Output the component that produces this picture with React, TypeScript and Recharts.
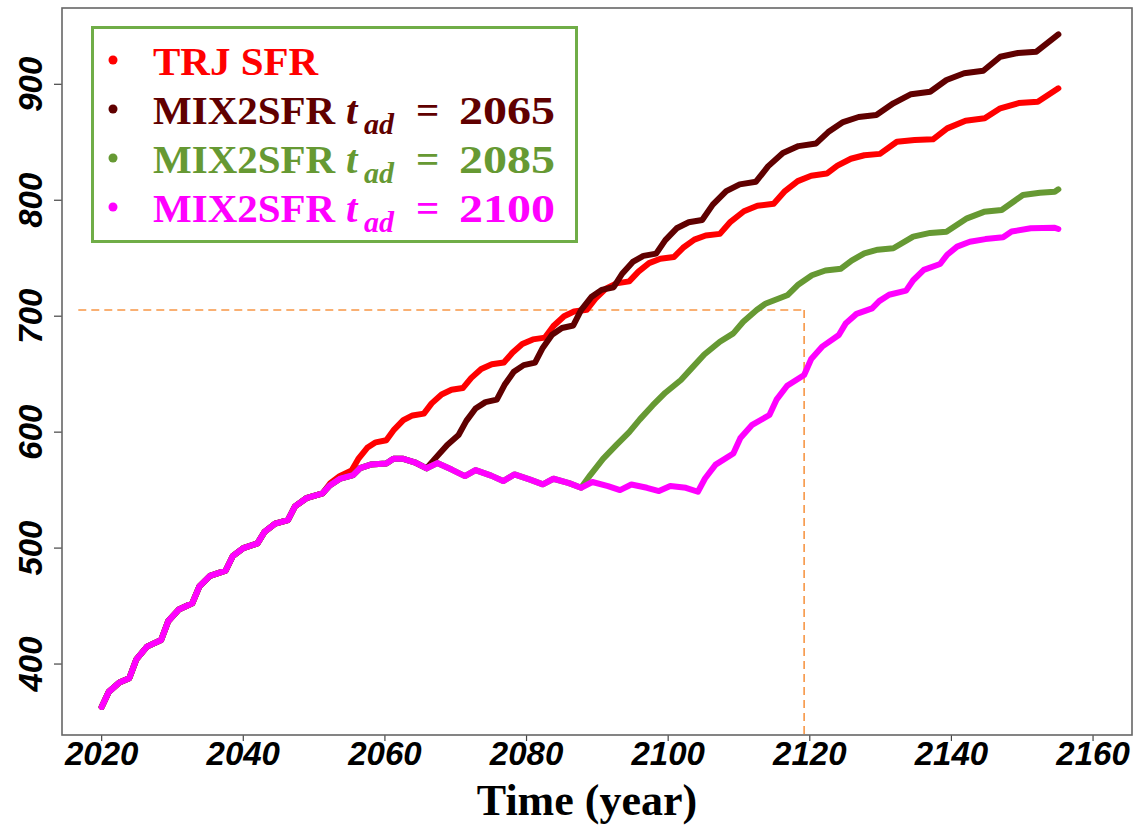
import React from 'react';
import { LineChart, Line, XAxis, YAxis, ReferenceLine } from 'recharts';

type P = [number, number];

const xTicks = [2020, 2040, 2060, 2080, 2100, 2120, 2140, 2160];
const yTicks = [400, 500, 600, 700, 800, 900];
const xDomain: [number, number] = [2014.4, 2165.5];
const yDomain: [number, number] = [338.8, 965.8];

// shared trajectory before divergence
const commonPath: P[] = [
  [2020.0, 363], [2021.0, 376], [2022.5, 384], [2023.9, 387.7], [2024.9, 404], [2026.4, 415],
  [2028.4, 420.7], [2029.4, 437], [2030.9, 447], [2032.8, 452.4], [2033.8, 467], [2035.3, 476],
  [2037.5, 480.5], [2038.5, 493], [2040.0, 500], [2042.0, 504.1], [2043.0, 514], [2044.5, 521],
  [2046.3, 524.2], [2047.3, 536], [2048.9, 543], [2051.2, 547.2],
];

// MIX2SFR plateau (no addition yet)
const mixFlatPath: P[] = [
  [2052.2, 554], [2053.7, 560], [2055.5, 563], [2056.5, 569], [2058.0, 572], [2060.2, 573],
  [2061.2, 577], [2062.6, 577], [2064.2, 574], [2065.9, 568.8], [2067.4, 573.3], [2069.5, 567.5],
  [2071.3, 562.1], [2072.8, 567.3], [2075.0, 562.5], [2076.7, 557.8], [2078.3, 563.5], [2080.5, 559],
  [2082.3, 555], [2083.8, 559.8], [2086.0, 556], [2087.7, 552], [2089.3, 557], [2091.5, 553.5],
  [2093.2, 550], [2094.8, 554.8], [2097.0, 552], [2098.7, 549.2], [2100.3, 553.6], [2102.5, 552],
  [2104.2, 548.6],
];

const trjTail: P[] = [
  [2052.3, 556], [2053.6, 562], [2055.3, 567],
  [2056.3, 577.4], [2057.5, 586.5], [2058.7, 591.2], [2060.2, 593],
  [2061.3, 602.2], [2062.6, 610.3], [2063.9, 614.4], [2065.5, 616],
  [2066.6, 624.8], [2068.0, 632.5], [2069.4, 636.5], [2071.0, 638],
  [2072.2, 646.8], [2073.6, 654.5], [2075.1, 658.5], [2076.8, 660],
  [2078.0, 668.5], [2079.4, 676], [2080.9, 680], [2082.6, 681.5],
  [2083.8, 691.5], [2085.3, 700], [2086.7, 704], [2088.5, 705.5],
  [2089.7, 715], [2091.2, 723.8], [2092.7, 728.3], [2094.5, 730],
  [2095.8, 738.4], [2097.3, 745.8], [2098.9, 749.5], [2100.8, 751],
  [2102.1, 759], [2103.7, 766], [2105.3, 769.6], [2107.3, 771],
  [2108.8, 781.4], [2110.7, 790.5], [2112.6, 795.2], [2114.9, 797],
  [2116.4, 807.4], [2118.3, 816.5], [2120.2, 821.2], [2122.4, 823],
  [2123.9, 829.8], [2125.8, 835.8], [2127.7, 838.8], [2129.9, 840],
  [2132.3, 850.5], [2134.8, 852], [2137.4, 852.6],
  [2139.4, 862], [2142.0, 868.6], [2144.7, 870.7],
  [2146.9, 879.3], [2149.5, 883.8], [2152.2, 885], [2155.1, 896.5],
];

const add2065Tail: P[] = [
  [2067.2, 578], [2068.8, 589], [2070.4, 597.5],
  [2071.5, 609.7], [2072.8, 620.4], [2074.2, 625.9], [2075.8, 628],
  [2076.9, 640.8], [2078.2, 652], [2079.6, 657.8], [2081.2, 660],
  [2082.3, 672.8], [2083.6, 684], [2085.0, 689.8], [2086.6, 692],
  [2087.7, 705.2], [2089.2, 716.8], [2090.6, 722.7], [2092.3, 725],
  [2093.5, 736.6], [2095.0, 746.8], [2096.5, 752], [2098.3, 754],
  [2099.6, 765.6], [2101.2, 775.8], [2102.9, 781], [2104.8, 783],
  [2106.3, 796.2], [2108.2, 807.8], [2110.1, 813.7], [2112.4, 816],
  [2114.1, 829.2], [2116.2, 840.8], [2118.4, 846.7], [2120.9, 849],
  [2122.6, 858.8], [2124.7, 867.4], [2126.9, 871.8], [2129.4, 873.5],
  [2131.8, 883.6], [2134.3, 891.5], [2137.0, 893.6],
  [2139.3, 903.7], [2141.8, 909.5], [2144.5, 911.7],
  [2146.9, 923.8], [2149.4, 927], [2152.0, 928.1], [2155.1, 943.1],
];

const add2085Tail: P[] = [
  [2089.0, 563], [2090.8, 577], [2092.7, 589], [2094.5, 600],
  [2096.0, 611], [2097.8, 623], [2099.6, 634], [2101.8, 645],
  [2103.3, 655], [2105.1, 667], [2107.3, 678], [2109.2, 685.2],
  [2110.6, 695.2], [2112.5, 705.3], [2113.8, 711], [2116.9, 718.3],
  [2118.4, 727.4], [2120.3, 735.3], [2122.2, 739.4], [2124.4, 741],
  [2125.9, 748], [2127.7, 754.2], [2129.6, 757.4], [2131.8, 758.6],
  [2134.6, 768.6], [2137.0, 771.8], [2139.3, 772.9],
  [2142.2, 784.4], [2144.6, 790], [2147.1, 791.6],
  [2150.1, 804.5], [2152.5, 806.5], [2154.6, 807.4], [2155.1, 809.4],
];

const add2100Tail: P[] = [
  [2105.2, 560], [2106.7, 572], [2109.2, 581.6], [2110.2, 595], [2111.8, 606], [2114.3, 614.8],
  [2115.3, 628], [2116.8, 640], [2119.2, 649.3], [2120.2, 663], [2121.8, 674], [2124.1, 683.8],
  [2125.1, 694], [2126.6, 702], [2128.8, 706.8], [2129.8, 713], [2131.2, 718.5], [2133.6, 722],
  [2134.6, 731], [2136.1, 740], [2138.4, 745], [2139.4, 753], [2140.8, 760], [2142.6, 764.2],
  [2144.8, 766.5], [2147.3, 768], [2148.5, 773], [2151.2, 775.8], [2154.5, 776.3], [2155.1, 775.2],
];

const guideLevel = 705.3;
const guideYear = 2119.2;
const guideStartYear = 2016.7;

const rows = (pts: P[]) => pts.map(([t, v]) => ({ t, v }));
const upTo = (pts: P[], t: number) => pts.filter((p) => p[0] <= t);

const trjSeries = rows([...commonPath, ...trjTail]);
const mix2065Series = rows([...commonPath, ...upTo(mixFlatPath, 2065.9), ...add2065Tail]);
const mix2085Series = rows([...commonPath, ...upTo(mixFlatPath, 2087.7), ...add2085Tail]);
const mix2100Series = rows([...commonPath, ...mixFlatPath, ...add2100Tail]);

const C_RED = '#FF0000';
const C_BROWN = '#600000';
const C_GREEN = '#669933';
const C_MAG = '#FF00FF';
const C_GUIDE = '#F79646';

const tickFont = {
  fontFamily: '"Liberation Sans", Arial, sans-serif',
  fontWeight: 'bold' as const,
  fontStyle: 'italic' as const,
  fontSize: 33,
  fill: '#000',
};

const XTick = (props: any) => {
  const { x, y, payload } = props;
  return (
    <text x={x} y={y + 24} textAnchor="middle" {...tickFont}>
      {payload.value}
    </text>
  );
};

const YTick = (props: any) => {
  const { x, y, payload } = props;
  const bx = x - 12;
  return (
    <text x={bx} y={y} textAnchor="middle" transform={`rotate(-90, ${bx}, ${y})`} {...tickFont}>
      {payload.value}
    </text>
  );
};

const legendItems = [
  { label: 'TRJ SFR', color: C_RED, year: '' },
  { label: 'MIX2SFR', color: C_BROWN, year: '2065' },
  { label: 'MIX2SFR', color: C_GREEN, year: '2085' },
  { label: 'MIX2SFR', color: C_MAG, year: '2100' },
];

const serif = '"Liberation Serif", "Times New Roman", serif';

export default function App() {
  const lineCommon = {
    type: 'linear' as const,
    dataKey: 'v',
    dot: false,
    activeDot: false,
    strokeWidth: 6,
    strokeLinecap: 'round' as const,
    strokeLinejoin: 'round' as const,
    isAnimationActive: false,
  };
  return (
    <div style={{ position: 'absolute', left: 0, top: 0, width: 1138, height: 828, background: '#fff' }}>
      <LineChart width={1138} height={828} margin={{ top: 8, right: 6, bottom: 33, left: 0 }}>
        <XAxis
          dataKey="t"
          type="number"
          domain={xDomain}
          ticks={xTicks}
          allowDataOverflow
          axisLine={false}
          tickLine={{ stroke: '#444', strokeWidth: 1.2 }}
          tickSize={6}
          tickMargin={0}
          height={60}
          tick={<XTick />}
          interval={0}
        />
        <YAxis
          type="number"
          domain={yDomain}
          ticks={yTicks}
          allowDataOverflow
          axisLine={false}
          tickLine={{ stroke: '#444', strokeWidth: 1.2 }}
          tickSize={8}
          tickMargin={0}
          width={62}
          tick={<YTick />}
          interval={0}
        />
        <ReferenceLine
          segment={[{ x: guideStartYear, y: guideLevel }, { x: guideYear, y: guideLevel }]}
          stroke={C_GUIDE}
          strokeWidth={1.6}
          strokeDasharray="8 5"
          ifOverflow="visible"
        />
        <ReferenceLine
          segment={[{ x: guideYear, y: guideLevel }, { x: guideYear, y: yDomain[0] }]}
          stroke={C_GUIDE}
          strokeWidth={1.6}
          strokeDasharray="8 5"
          ifOverflow="visible"
        />
        <Line {...lineCommon} data={trjSeries} stroke={C_RED} name="TRJ SFR" />
        <Line {...lineCommon} data={mix2065Series} stroke={C_BROWN} name="MIX2SFR 2065" />
        <Line {...lineCommon} data={mix2085Series} stroke={C_GREEN} name="MIX2SFR 2085" />
        <Line {...lineCommon} data={mix2100Series} stroke={C_MAG} name="MIX2SFR 2100" />
      </LineChart>
      <svg
        width={1138}
        height={828}
        style={{ position: 'absolute', left: 0, top: 0, pointerEvents: 'none' }}
      >
        <rect x={62} y={8} width={1070} height={727} fill="none" stroke="#666" strokeWidth={1.6} />
        <rect x={92.5} y={27.5} width={484} height={214} fill="#fff" stroke="#70AD47" strokeWidth={3} />
        {legendItems.map((it, i) => {
          const base = 75 + i * 49;
          return (
            <g key={i} fill={it.color} fontFamily={serif} fontWeight="bold" fontSize={41}>
              <circle cx={113} cy={base - 15} r={4.5} fill={it.color} />
              {it.year === '' ? (
                <text x={153} y={base}>{it.label}</text>
              ) : (
                <text x={153} y={base}>
                  <tspan>{it.label}</tspan>
                  <tspan x={346} fontStyle="italic">t</tspan>
                  <tspan x={364} dy={10} fontStyle="italic" fontSize={30}>ad</tspan>
                  <tspan x={416} dy={-10}>=</tspan>
                  <tspan x={459} textLength={96} lengthAdjust="spacingAndGlyphs">{it.year}</tspan>
                </text>
              )}
            </g>
          );
        })}
        <text x={587} y={815} textAnchor="middle" fontFamily={serif} fontWeight="bold" fontSize={44} fill="#000">
          Time (year)
        </text>
      </svg>
    </div>
  );
}
